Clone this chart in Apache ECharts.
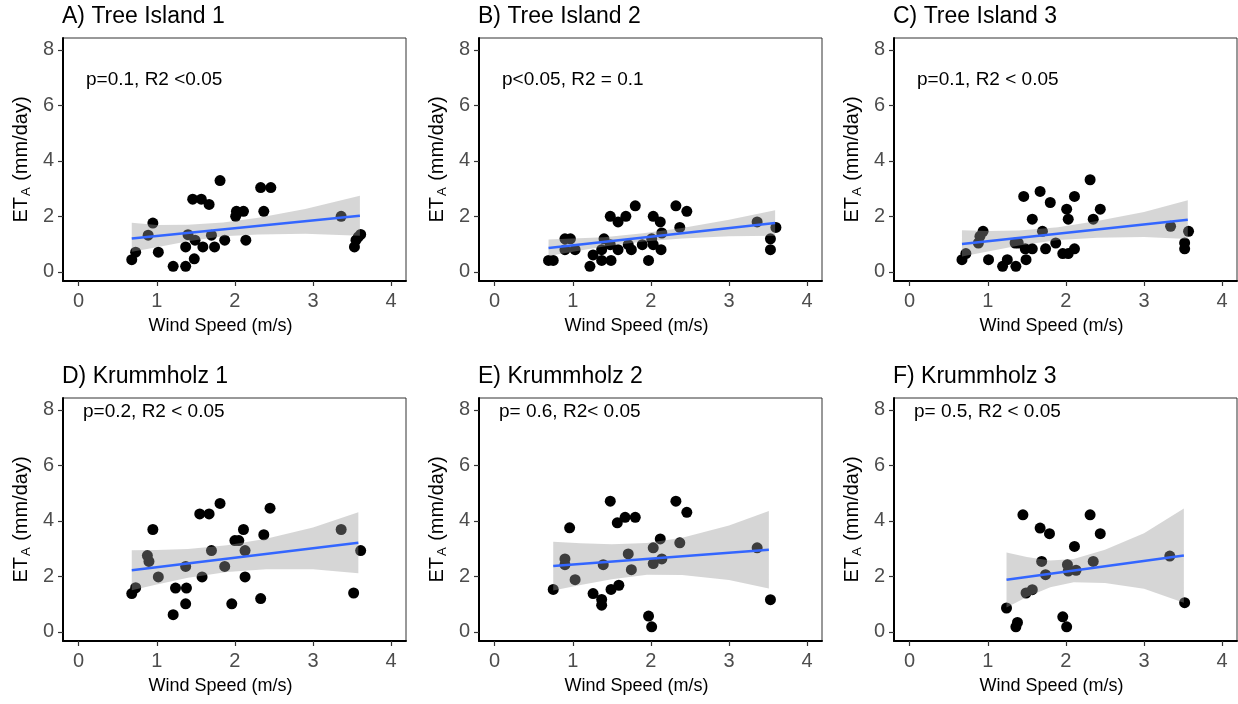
<!DOCTYPE html>
<html><head><meta charset="utf-8">
<script src="https://cdn.jsdelivr.net/npm/echarts@6/dist/echarts.min.js"></script>
<style>html,body{margin:0;padding:0;background:#fff}#c{width:1238px;height:704px}</style>
</head><body><div id="c"></div><script>
const xTicks = [0, 1, 2, 3, 4];
const yTicks = [0, 2, 4, 6, 8];
const titles = ["A) Tree Island 1", "B) Tree Island 2", "C) Tree Island 3", "D) Krummholz 1", "E) Krummholz 2", "F) Krummholz 3"];
const notes = ["p=0.1, R2 <0.05", "p<0.05, R2 = 0.1", "p=0.1, R2 < 0.05", "p=0.2, R2 < 0.05", "p= 0.6, R2< 0.05", "p= 0.5, R2 < 0.05"];

const xA = [0.68,0.73,0.89,0.95,1.02,1.21,1.37,1.37,1.40,1.48,1.49,1.46,1.57,1.59,1.67,1.70,1.74,1.81,1.87,2.01,2.02,2.11,2.14,2.37,2.33,2.46,3.36,3.53,3.55,3.58,3.61];
const yA = [0.44,0.71,1.32,1.76,0.71,0.20,0.90,0.20,1.34,0.47,1.14,2.62,2.62,0.90,2.43,1.32,0.90,3.29,1.14,2.00,2.18,2.18,1.14,2.18,3.04,3.04,2.00,0.90,1.14,1.26,1.35];
const xB = [0.69,0.75,0.90,0.90,0.97,1.03,1.22,1.26,1.37,1.37,1.40,1.49,1.48,1.48,1.58,1.58,1.68,1.71,1.75,1.80,1.89,1.97,2.03,2.01,2.03,2.12,2.14,2.13,2.32,2.37,2.46,3.36,3.53,3.53,3.60];
const yB = [0.41,0.41,0.80,1.19,1.19,0.80,0.20,0.61,0.80,0.41,1.19,0.41,0.98,2.00,1.80,0.80,2.00,0.98,0.80,2.38,0.98,0.41,2.00,1.19,0.98,1.80,1.40,0.80,2.38,1.60,2.18,1.80,1.19,0.80,1.60];
const xC = [0.67,0.72,0.88,0.90,0.94,1.01,1.19,1.25,1.36,1.35,1.39,1.46,1.48,1.49,1.57,1.57,1.67,1.70,1.74,1.80,1.87,1.96,2.01,2.03,2.03,2.11,2.11,2.31,2.35,2.44,3.34,3.52,3.52,3.57];
const yC = [0.44,0.66,1.04,1.28,1.46,0.44,0.20,0.44,0.20,1.04,1.04,2.72,0.83,0.44,0.83,1.90,2.90,1.46,0.83,2.50,1.04,0.66,2.26,1.90,0.66,2.72,0.83,3.32,1.90,2.26,1.64,1.04,0.83,1.46];
const xD = [0.68,0.73,0.88,0.90,0.95,1.02,1.21,1.24,1.37,1.38,1.37,1.55,1.58,1.67,1.70,1.81,1.87,1.96,2.00,2.05,2.11,2.13,2.13,2.33,2.37,2.45,3.36,3.52,3.61];
const yD = [1.38,1.59,2.75,2.54,3.69,1.98,0.62,1.58,2.36,1.58,1.01,4.25,1.98,4.25,2.93,4.63,2.36,1.01,3.29,3.29,3.69,2.93,1.98,1.20,3.50,4.46,3.69,1.40,2.93];
const xE = [0.75,0.90,0.90,0.96,1.03,1.26,1.37,1.37,1.39,1.48,1.49,1.57,1.59,1.67,1.71,1.75,1.80,1.97,2.01,2.03,2.03,2.12,2.14,2.32,2.37,2.46,3.36,3.53];
const yE = [1.53,2.63,2.42,3.75,1.88,1.38,1.17,0.96,2.42,4.71,1.53,3.93,1.68,4.13,2.81,2.24,4.13,0.57,0.18,3.03,2.46,3.35,2.63,4.71,3.21,4.31,3.03,1.16];
const xF = [1.24,1.36,1.38,1.45,1.49,1.57,1.67,1.69,1.74,1.79,1.96,2.01,2.02,2.03,2.13,2.11,2.31,2.35,2.44,3.33,3.52];
const yF = [0.86,0.18,0.34,4.22,1.40,1.52,3.74,2.54,2.06,3.54,0.54,0.18,2.42,2.19,2.22,3.08,4.22,2.54,3.54,2.73,1.05];

const fitXA = [0.68, 3.60], fitYA = [1.20, 2.02];
const fitXB = [0.69, 3.59], fitYB = [0.86, 1.76];
const fitXC = [0.67, 3.56], fitYC = [1.00, 1.88];
const fitXD = [0.68, 3.58], fitYD = [2.22, 3.21];
const fitXE = [0.75, 3.51], fitYE = [2.37, 2.96];
const fitXF = [1.24, 3.51], fitYF = [1.88, 2.75];

const ribXA = [0.68,1.0,1.4,1.85,2.3,2.9,3.6], ribLoA = [0.72,0.89,1.10,1.28,1.35,1.37,1.30], ribHiA = [1.77,1.69,1.70,1.78,1.95,2.27,2.74];
const ribXB = [0.69,1.0,1.4,1.9,2.4,3.0,3.59], ribLoB = [0.57,0.72,0.91,1.09,1.20,1.28,1.30], ribHiB = [1.17,1.20,1.25,1.39,1.58,1.88,2.22];
const ribXC = [0.67,1.0,1.4,1.9,2.4,3.0,3.56], ribLoC = [0.55,0.73,0.95,1.15,1.23,1.26,1.18], ribHiC = [1.50,1.47,1.49,1.61,1.83,2.16,2.58];
const ribXD = [0.68,1.0,1.4,1.9,2.4,3.0,3.58], ribLoD = [1.50,1.71,1.95,2.16,2.26,2.26,2.11], ribHiD = [2.94,2.95,2.99,3.12,3.36,3.76,4.31];
const ribXE = [0.75,1.1,1.5,1.95,2.4,3.0,3.51], ribLoE = [1.49,1.69,1.90,2.06,2.05,1.87,1.56], ribHiE = [3.25,3.19,3.16,3.20,3.39,3.83,4.36];
const ribXF = [1.24,1.5,1.8,2.1,2.5,3.0,3.51], ribLoF = [0.88,1.26,1.61,1.79,1.76,1.55,1.05], ribHiF = [2.86,2.70,2.57,2.63,2.96,3.55,4.45];

const panels = [
  {x: xA, y: yA, fx: fitXA, fy: fitYA, rx: ribXA, rl: ribLoA, rh: ribHiA},
  {x: xB, y: yB, fx: fitXB, fy: fitYB, rx: ribXB, rl: ribLoB, rh: ribHiB},
  {x: xC, y: yC, fx: fitXC, fy: fitYC, rx: ribXC, rl: ribLoC, rh: ribHiC},
  {x: xD, y: yD, fx: fitXD, fy: fitYD, rx: ribXD, rl: ribLoD, rh: ribHiD},
  {x: xE, y: yE, fx: fitXE, fy: fitYE, rx: ribXE, rl: ribLoE, rh: ribHiE},
  {x: xF, y: yF, fx: fitXF, fy: fitYF, rx: ribXF, rl: ribLoF, rh: ribHiF}
];

const FONT = "'Liberation Sans', Arial, sans-serif";
const gridLefts = [63, 479, 894];
const gridTops = [38, 398];
const GW = 343, GH = 243;

const grid = [], xAxis = [], yAxis = [], series = [], graphic = [];
panels.forEach((p, i) => {
  const col = i % 3, row = Math.floor(i / 3);
  const L = gridLefts[col], T = gridTops[row];
  grid.push({left: L, top: T, width: GW, height: GH, show: true, borderColor: '#333', borderWidth: 1, backgroundColor: '#fff'});
  xAxis.push({
    gridIndex: i, type: 'value', min: -0.2, max: 4.19,
    axisLine: {show: true, onZero: false, lineStyle: {color: '#000', width: 2}},
    axisTick: {show: true, customValues: xTicks, length: 5, lineStyle: {color: '#333', width: 1.2}},
    axisLabel: {customValues: xTicks, color: '#4D4D4D', fontSize: 20, margin: 10, fontFamily: FONT},
    splitLine: {show: false},
    name: 'Wind Speed (m/s)', nameLocation: 'middle', nameGap: 36,
    nameTextStyle: {fontSize: 18, color: '#000', fontFamily: FONT, padding: [0, 28, 0, 0]}
  });
  yAxis.push({
    gridIndex: i, type: 'value', min: -0.33, max: 8.43,
    axisLine: {show: true, onZero: false, lineStyle: {color: '#000', width: 2}},
    axisTick: {show: true, customValues: yTicks, length: 5, lineStyle: {color: '#333', width: 1.2}},
    axisLabel: {customValues: yTicks, color: '#4D4D4D', fontSize: 20, margin: 9, fontFamily: FONT},
    splitLine: {show: false},
    name: '{a|ET}{b|A}{a| (mm/day)}', nameLocation: 'middle', nameGap: 30, nameRotate: 90,
    nameTextStyle: {
      color: '#000', fontFamily: FONT,
      rich: {
        a: {fontSize: 20, color: '#000', fontFamily: FONT, lineHeight: 24, verticalAlign: 'middle'},
        b: {fontSize: 13, color: '#000', fontFamily: FONT, lineHeight: 13, verticalAlign: 'bottom', padding: [0, 1, 0, 1]}
      }
    }
  });
  series.push({
    type: 'scatter', xAxisIndex: i, yAxisIndex: i, z: 2,
    symbolSize: 11, itemStyle: {color: '#000', opacity: 1},
    data: p.x.map((v, k) => [v, p.y[k]]), silent: true
  });
  series.push({
    type: 'custom', xAxisIndex: i, yAxisIndex: i, z: 3, silent: true,
    data: [[p.rx[0], p.rl[0]]],
    renderItem: function (params, api) {
      const pts = [];
      for (let k = 0; k < p.rx.length; k++) pts.push(api.coord([p.rx[k], p.rh[k]]));
      for (let k = p.rx.length - 1; k >= 0; k--) pts.push(api.coord([p.rx[k], p.rl[k]]));
      return {type: 'polygon', shape: {points: pts, smooth: 0}, style: {fill: 'rgba(153,153,153,0.4)'}};
    }
  });
  series.push({
    type: 'line', xAxisIndex: i, yAxisIndex: i, z: 4, silent: true,
    symbol: 'none', lineStyle: {color: '#3366FF', width: 2.5},
    data: p.fx.map((v, k) => [v, p.fy[k]])
  });
  graphic.push({
    type: 'text', x: L - 1, y: T - 21, silent: true,
    style: {text: titles[i], font: '23px ' + FONT, fill: '#000', textVerticalAlign: 'middle'}
  });
  const noteOff = row === 0 ? [23, 42] : [20, 14];
  graphic.push({
    type: 'text', x: L + noteOff[0], y: T + noteOff[1], silent: true,
    style: {text: notes[i], font: '19px ' + FONT, fill: '#000', textVerticalAlign: 'middle'}
  });
});

const chart = echarts.init(document.getElementById('c'), null, {renderer: 'canvas'});
chart.setOption({
  backgroundColor: '#fff', animation: false,
  grid, xAxis, yAxis, series, graphic
});
</script></body></html>
